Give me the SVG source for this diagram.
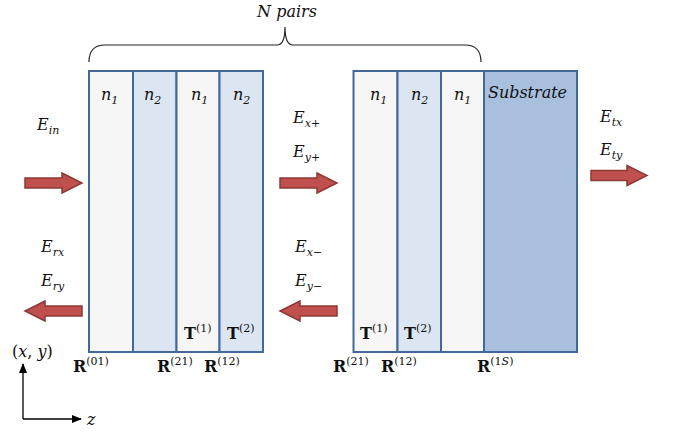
<svg xmlns="http://www.w3.org/2000/svg" width="676" height="434" viewBox="0 0 676 434">
<defs>
<style>
.l1{fill:#f6f6f6;stroke:#42699a;stroke-width:2}
.l2{fill:#dce6f2;stroke:#42699a;stroke-width:2}
.ls{fill:#a8c0de;stroke:#42699a;stroke-width:2}
.m{font-family:"DejaVu Serif",serif;font-style:italic;font-size:16px;fill:#111}
.s{font-size:11px}
.b{font-family:"DejaVu Serif",serif;font-weight:bold;font-size:16px;fill:#111}
.sup{font-weight:normal;font-size:11px}
.arr{fill:#c0504d;stroke:#8c3836;stroke-width:1.5}
</style>
<marker id="ah" markerWidth="10" markerHeight="8" refX="9" refY="4" orient="auto" markerUnits="userSpaceOnUse">
<path d="M0,0 L10,4 L0,8 z" fill="#000"/>
</marker>
</defs>
<rect width="676" height="434" fill="#fff"/>
<g id="stack-left">
<rect class="l1" x="89" y="71" width="44" height="281"/>
<rect class="l2" x="133" y="71" width="43.5" height="281"/>
<rect class="l1" x="176.5" y="71" width="43" height="281"/>
<rect class="l2" x="219.5" y="71" width="43.5" height="281"/>
<text class="m" x="101" y="100">n<tspan class="s" dy="4">1</tspan></text>
<text class="m" x="144" y="100">n<tspan class="s" dy="4">2</tspan></text>
<text class="m" x="191" y="100">n<tspan class="s" dy="4">1</tspan></text>
<text class="m" x="233" y="100">n<tspan class="s" dy="4">2</tspan></text>
<text class="b" x="184" y="339">T<tspan class="sup" dy="-7">(1)</tspan></text>
<text class="b" x="227" y="339">T<tspan class="sup" dy="-7">(2)</tspan></text>
</g>
<g id="stack-right">
<rect class="l1" x="353.5" y="71" width="44" height="281"/>
<rect class="l2" x="397.5" y="71" width="43.5" height="281"/>
<rect class="l1" x="441" y="71" width="43" height="281"/>
<rect class="ls" x="484" y="71" width="93" height="281"/>
<text class="m" x="370" y="100">n<tspan class="s" dy="4">1</tspan></text>
<text class="m" x="411" y="100">n<tspan class="s" dy="4">2</tspan></text>
<text class="m" x="454" y="100">n<tspan class="s" dy="4">1</tspan></text>
<text class="m" x="488" y="98" textLength="79" lengthAdjust="spacingAndGlyphs">Substrate</text>
<text class="b" x="360" y="339">T<tspan class="sup" dy="-7">(1)</tspan></text>
<text class="b" x="404" y="339">T<tspan class="sup" dy="-7">(2)</tspan></text>
</g>
<g id="brace">
<path d="M89,62 Q89,45 105,45 L277,45 Q285,45 285,27 Q285,45 293,45 L465,45 Q481,45 481,62" fill="none" stroke="#222" stroke-width="1.2"/>
<text class="m" x="287" y="17" text-anchor="middle">N pairs</text>
</g>
<g id="connectors">
<path class="arr" d="M25,178 L62,178 L62,173 L82,183 L62,193 L62,188 L25,188 z"/>
<path class="arr" d="M280,178 L317,178 L317,173 L337,183 L317,193 L317,188 L280,188 z"/>
<path class="arr" d="M591,170.5 L627,170.5 L627,165.5 L647,175.5 L627,185.5 L627,180.5 L591,180.5 z"/>
<path class="arr" d="M82,306 L45,306 L45,301 L25,311 L45,321 L45,316 L82,316 z"/>
<path class="arr" d="M337,306 L300,306 L300,301 L280,311 L300,321 L300,316 L337,316 z"/>
</g>
<g id="labels">
<text class="m" x="37" y="130">E<tspan class="s" dy="4">in</tspan></text>
<text class="m" x="293" y="123">E<tspan class="s" dy="4">x+</tspan></text>
<text class="m" x="293" y="157">E<tspan class="s" dy="4">y+</tspan></text>
<text class="m" x="600" y="122">E<tspan class="s" dy="4">tx</tspan></text>
<text class="m" x="600" y="155">E<tspan class="s" dy="4">ty</tspan></text>
<text class="m" x="41" y="252">E<tspan class="s" dy="4">rx</tspan></text>
<text class="m" x="41" y="286">E<tspan class="s" dy="4">ry</tspan></text>
<text class="m" x="295" y="252">E<tspan class="s" dy="4">x−</tspan></text>
<text class="m" x="295" y="286">E<tspan class="s" dy="4">y−</tspan></text>
<text class="b" x="73" y="372">R<tspan class="sup" dy="-7">(01)</tspan></text>
<text class="b" x="157" y="372">R<tspan class="sup" dy="-7">(21)</tspan></text>
<text class="b" x="204" y="372">R<tspan class="sup" dy="-7">(12)</tspan></text>
<text class="b" x="333" y="372">R<tspan class="sup" dy="-7">(21)</tspan></text>
<text class="b" x="381" y="372">R<tspan class="sup" dy="-7">(12)</tspan></text>
<text class="b" x="477" y="372">R<tspan class="sup" dy="-7">(1<tspan font-style="italic">S</tspan>)</tspan></text>
</g>
<g id="axes">
<path d="M23,419 L23,364" fill="none" stroke="#000" stroke-width="1.3" marker-end="url(#ah)"/>
<path d="M23,419 L81,419" fill="none" stroke="#000" stroke-width="1.3" marker-end="url(#ah)"/>
<text class="m" x="12" y="357" style="font-style:normal">(<tspan font-style="italic">x</tspan>, <tspan font-style="italic">y</tspan>)</text>
<text class="m" x="87" y="425">z</text>
</g>
</svg>
